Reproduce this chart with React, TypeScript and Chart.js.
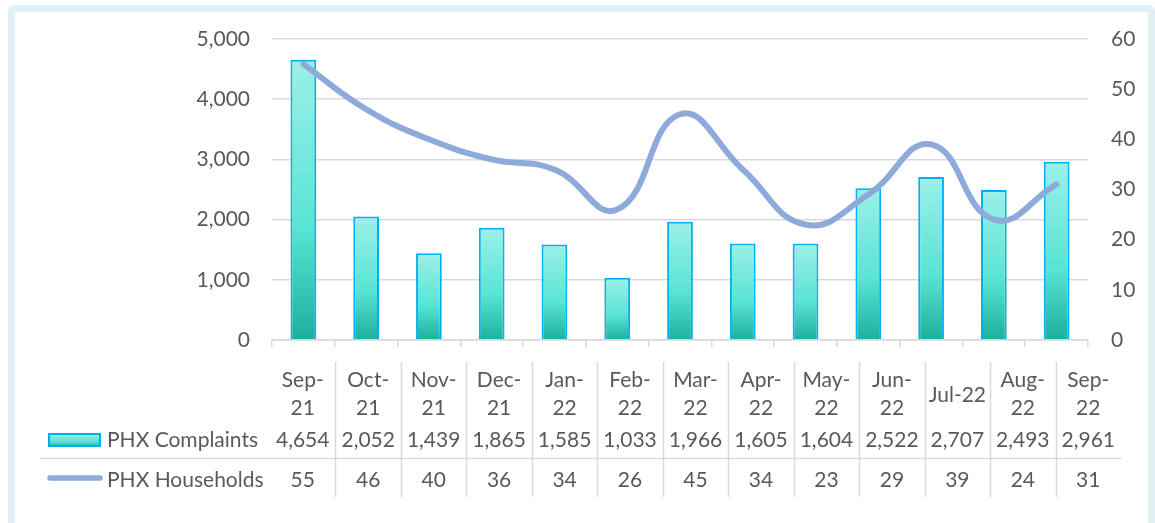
import React, { useEffect, useRef } from "react";
import { Chart, registerables } from "chart.js";

Chart.register(...registerables);

const categoryLines: string[][] = [
  ["Sep-", "21"], ["Oct-", "21"], ["Nov-", "21"], ["Dec-", "21"], ["Jan-", "22"],
  ["Feb-", "22"], ["Mar-", "22"], ["Apr-", "22"], ["May-", "22"], ["Jun-", "22"],
  ["Jul-22"], ["Aug-", "22"], ["Sep-", "22"],
];
const categories = categoryLines.map((l) => l.join(""));
const complaints = [4654, 2052, 1439, 1865, 1585, 1033, 1966, 1605, 1604, 2522, 2707, 2493, 2961];
const households = [55, 46, 40, 36, 34, 26, 45, 34, 23, 29, 39, 24, 31];
const leftTicks = { min: 0, max: 5000, step: 1000 };
const rightTicks = { min: 0, max: 60, step: 10 };
const seriesNames = ["PHX Complaints", "PHX Households"];

const TEXT = "#595959";
const GRID = "#d9d9d9";
const FONT = "Lato";
const FONT_SIZE = 21;
const LINE_COLOR = "#8eaadb";
const BAR_BORDER = "#00b0f0";

function barGradient(ctx: CanvasRenderingContext2D, top: number, bottom: number) {
  const g = ctx.createLinearGradient(0, top, 0, bottom);
  g.addColorStop(0, "#9cf0e8");
  g.addColorStop(0.6, "#58e4d4");
  g.addColorStop(1, "#1daf9d");
  return g;
}

const fmt = (v: number) => v.toLocaleString("en-US");

const tablePlugin = {
  id: "dataTable",
  afterDraw(chart: any) {
    const ctx: CanvasRenderingContext2D = chart.ctx;
    const area = chart.chartArea;
    const n = categories.length;
    const tLeft = area.left - 2;
    const tRight = area.right + 33;
    const colW = (tRight - tLeft) / n;
    const top = 362;
    const sep = 458;
    const bottom = 497;
    ctx.save();
    ctx.strokeStyle = GRID;
    ctx.lineWidth = 1.5;
    for (let i = 1; i < n; i++) {
      const x = Math.round(tLeft + i * colW) + 0.5;
      ctx.beginPath();
      ctx.moveTo(x, top);
      ctx.lineTo(x, bottom);
      ctx.stroke();
    }
    ctx.beginPath();
    ctx.moveTo(40, sep + 0.5);
    ctx.lineTo(tRight, sep + 0.5);
    ctx.stroke();

    ctx.fillStyle = TEXT;
    ctx.font = `${FONT_SIZE}px ${FONT}`;
    ctx.textAlign = "center";
    ctx.textBaseline = "middle";
    for (let i = 0; i < n; i++) {
      const cx = tLeft + (i + 0.5) * colW;
      const lines = categoryLines[i];
      if (lines.length === 1) {
        ctx.fillText(lines[0], cx, 395);
      } else {
        ctx.fillText(lines[0], cx, 380);
        ctx.fillText(lines[1], cx, 408);
      }
      ctx.fillText(fmt(complaints[i]), cx, 440);
      ctx.fillText(fmt(households[i]), cx, 480);
    }
    // legend keys
    ctx.fillStyle = barGradient(ctx, 433, 447);
    ctx.fillRect(48, 433, 53, 14);
    ctx.strokeStyle = BAR_BORDER;
    ctx.lineWidth = 2;
    ctx.strokeRect(49, 434, 51, 12);
    ctx.strokeStyle = LINE_COLOR;
    ctx.lineWidth = 5.5;
    ctx.lineCap = "round";
    ctx.beginPath();
    ctx.moveTo(50, 478);
    ctx.lineTo(100, 478);
    ctx.stroke();
    ctx.fillStyle = TEXT;
    ctx.textAlign = "left";
    ctx.fillText(seriesNames[0], 107, 440);
    ctx.fillText(seriesNames[1], 107, 480);
    ctx.restore();
  },
};

export default function App() {
  const ref = useRef<HTMLCanvasElement>(null);
  useEffect(() => {
    if (!ref.current) return;
    const chart = new Chart(ref.current, {
      type: "bar",
      data: {
        labels: categories,
        datasets: [
          {
            type: "line",
            label: seriesNames[1],
            data: households,
            yAxisID: "y1",
            borderColor: LINE_COLOR,
            borderWidth: 6,
            borderCapStyle: "round",
            tension: 0.45,
            pointRadius: 0,
            fill: false,
            order: 0,
          } as any,
          {
            type: "bar",
            label: seriesNames[0],
            data: complaints,
            yAxisID: "y",
            backgroundColor: (c: any) => {
              const ch = c.chart;
              const ys = ch.scales?.y;
              if (!ch.chartArea || !ys || c.raw == null) return "#58e4d4";
              const t = ys.getPixelForValue(c.raw);
              const b = ys.getPixelForValue(0);
              return barGradient(ch.ctx, t, b);
            },
            borderColor: BAR_BORDER,
            borderWidth: 2,
            barPercentage: 0.41,
            categoryPercentage: 1,
            order: 1,
          },
        ],
      },
      options: {
        responsive: false,
        animation: false,
        devicePixelRatio: 1,
        layout: { padding: { top: 39, bottom: 183, left: 0, right: 0 } },
        plugins: { legend: { display: false }, tooltip: { enabled: false } },
        scales: {
          x: {
            offset: true,
            ticks: { display: false },
            grid: { display: true, drawOnChartArea: false, drawTicks: true, tickLength: 7, color: GRID, lineWidth: 1.5, offset: true },
            border: { display: true, color: GRID, width: 1.5 },
            afterFit: (s: any) => { s.height = 0; },
          },
          y: {
            position: "left",
            min: leftTicks.min,
            max: leftTicks.max,
            ticks: { stepSize: leftTicks.step, padding: 22, color: TEXT, font: { family: FONT, size: FONT_SIZE }, callback: (v: any) => fmt(Number(v)) },
            grid: { color: GRID, lineWidth: 1.5, drawTicks: false },
            border: { display: false },
            afterFit: (s: any) => { s.width = 272; },
          },
          y1: {
            position: "right",
            min: rightTicks.min,
            max: rightTicks.max,
            ticks: { stepSize: rightTicks.step, padding: 23, color: TEXT, font: { family: FONT, size: FONT_SIZE } },
            grid: { display: false, drawTicks: false },
            border: { display: false },
            afterFit: (s: any) => { s.width = 67; },
          },
        },
      },
      plugins: [tablePlugin],
    });
    return () => chart.destroy();
  }, []);
  return (
    <div style={{ position: "absolute", left: 0, top: 0, width: 1155, height: 523, overflow: "hidden", background: "#fff" }}>
      <div style={{ position: "absolute", left: 8, top: 5, width: 1133, height: 540, border: "7px solid #dff0f6", borderRadius: 6 }} />
      <canvas ref={ref} width={1155} height={523} style={{ position: "absolute", left: 0, top: 0, width: 1155, height: 523 }} />
    </div>
  );
}
